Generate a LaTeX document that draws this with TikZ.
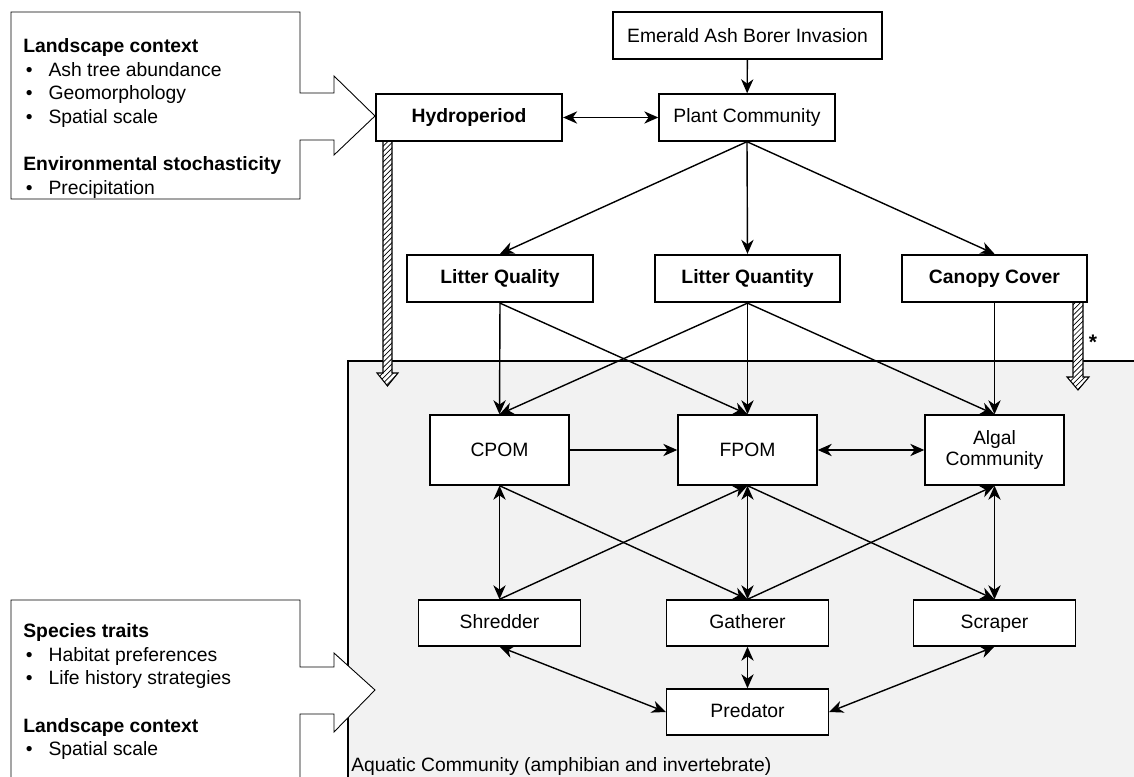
\documentclass[tikz,border=0pt]{standalone}
\usepackage{fontspec}
\setmainfont{Liberation Sans}
\usetikzlibrary{arrows.meta,patterns}

\newcommand{\callitem}[1]{\hspace*{1.5pt}\textbullet\hspace{9pt}#1}

\begin{document}
\begin{tikzpicture}[
    x=0.02cm, y=-0.02cm,
    >={Stealth[length=8pt,width=7pt,inset=2.5pt]},
    box/.style={draw, fill=white, line width=0.8pt, minimum height=0.94cm, inner sep=2pt, font=\fontsize{11}{13}\selectfont},
    key box/.style={box, line width=1.3pt, font=\fontsize{11}{13}\selectfont\bfseries},
    pom box/.style={box, minimum width=2.78cm, minimum height=1.4cm, align=center, font=\fontsize{11}{12.5}\selectfont},
    guild box/.style={box, minimum width=3.24cm, minimum height=0.92cm, text height=1.6ex, text depth=0.4ex},
    link/.style={->, line width=0.8pt},
    both link/.style={<->, line width=0.8pt},
    callout/.style={draw, fill=white, line width=0.5pt},
    hatched/.style={draw, line width=0.6pt, preaction={fill=white}, pattern=north east lines},
    list/.style={anchor=north west, align=left, inner sep=0pt, font=\fontsize{11}{13.5}\selectfont}
]
\useasboundingbox (0,0) rectangle (1134,777);

% Aquatic community area
\draw[line width=0.6pt, fill=black!5] (348,361) rectangle (1150,800);
\node[anchor=base west, inner sep=0pt, font=\fontsize{11}{13}\selectfont] (aqlabel) at (351,771) {Aquatic Community (amphibian and invertebrate)};

% Callouts
\draw[callout] (11,12) -- (300,12) -- (300,93) -- (334,93) -- (334,76) -- (375,116)
    -- (334,155) -- (334,140) -- (300,140) -- (300,199) -- (11,199) -- cycle;
\node[list] (context1) at (23,38) {\textbf{Landscape context}\\
    \callitem{Ash tree abundance}\\
    \callitem{Geomorphology}\\
    \callitem{Spatial scale}\\[13.5pt]
    \textbf{Environmental stochasticity}\\
    \callitem{Precipitation}};

\draw[callout] (11,800) -- (11,600) -- (300,600) -- (300,667) -- (334,667) -- (334,653) -- (375,690)
    -- (334,732) -- (334,714) -- (300,714) -- (300,800);
\node[list] (context2) at (23,623) {\textbf{Species traits}\\
    \callitem{Habitat preferences}\\
    \callitem{Life history strategies}\\[13.5pt]
    \textbf{Landscape context}\\
    \callitem{Spatial scale}};

% Hatched arrows
\draw[hatched] (383,141) -- (392,141) -- (392,373) -- (398,373) -- (387.5,386)
    -- (377,373) -- (383,373) -- cycle;
\draw[hatched] (1073,302) -- (1083,302) -- (1083,377) -- (1089,377) -- (1078,390)
    -- (1067,377) -- (1073,377) -- cycle;
\node[font=\fontsize{12}{13}\selectfont\bfseries] (star) at (1093,342) {*};

% Nodes
\node[box, minimum width=5.38cm] at (747.5, 35.5) (eab) {Emerald Ash Borer Invasion};
\node[box, minimum width=3.52cm] at (747, 117.5) (plant) {Plant Community};
\node[key box, minimum width=3.72cm] at (469, 117.5) (hydro) {Hydroperiod};

\node[key box, minimum width=3.72cm] at (500, 278.5) (lqual) {Litter Quality};
\node[key box, minimum width=3.7cm] at (747.5, 278.5) (lquan) {Litter Quantity};
\node[key box, minimum width=3.7cm] at (994.5, 278.5) (canopy) {Canopy Cover};

\node[pom box] at (499.5, 450) (cpom) {CPOM};
\node[pom box] at (747.5, 450) (fpom) {FPOM};
\node[pom box] at (994.5, 450) (algal) {Algal\\Community};

\node[guild box] at (499.5, 623) (shred) {Shredder};
\node[guild box] at (747.5, 623) (gath) {Gatherer};
\node[guild box] at (994.5, 623) (scrap) {Scraper};
\node[guild box] at (747.5, 712) (pred) {Predator};

% Edges from the invasion to the litter
\draw[link] (eab) -- (plant);
\draw[both link] (hydro) -- (plant);
\draw[link] (plant.south) -- (lqual.north);
\draw[link] (plant.south) -- (lquan.north);
\draw[link] (plant.south) -- (canopy.north);

% Edges from the litter to the food base
\draw[link] (lqual.south) -- (cpom.north);
\draw[link] (lqual.south) -- (fpom.north);
\draw[link] (lquan.south) -- (cpom.north);
\draw[link] (lquan.south) -- (fpom.north);
\draw[link] (lquan.south) -- (algal.north);
\draw[link] (canopy.south) -- (algal.north);

\draw[link] (cpom) -- (fpom);
\draw[both link] (fpom) -- (algal);

% Edges between food base and guilds
\draw[both link] (cpom.south) -- (shred.north);
\draw[link] (cpom.south) -- (gath.north);
\draw[link] (shred.north) -- (fpom.south);
\draw[both link] (fpom.south) -- (gath.north);
\draw[link] (fpom.south) -- (scrap.north);
\draw[link] (gath.north) -- (algal.south);
\draw[both link] (algal.south) -- (scrap.north);

% Edges to the predator
\draw[both link] (shred.south) -- (pred.west);
\draw[both link] (gath) -- (pred);
\draw[both link] (scrap.south) -- (pred.east);

\end{tikzpicture}
\end{document}
